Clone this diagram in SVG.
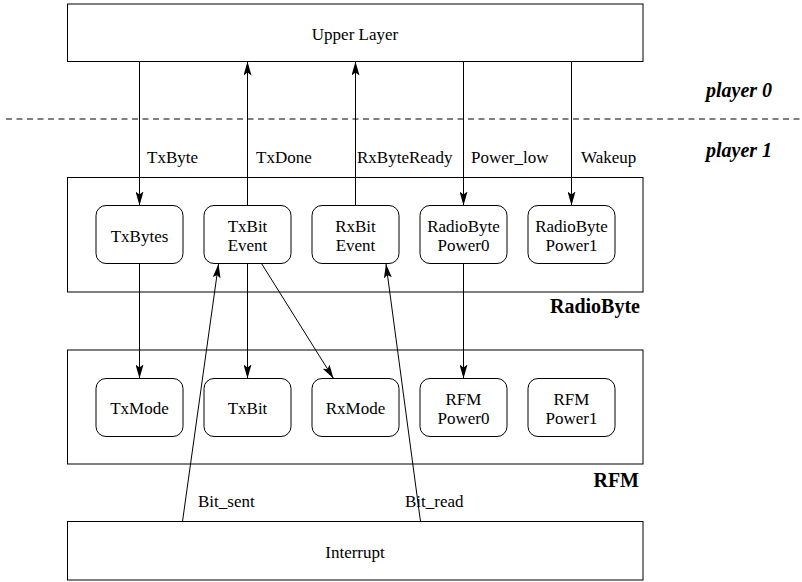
<svg xmlns="http://www.w3.org/2000/svg" width="802" height="582" viewBox="0 0 802 582" font-family="'Liberation Serif','Times New Roman',serif">
<style>
text{font-family:"Liberation Serif","Times New Roman",serif;fill:#000}
.t{font-size:17px}
.c{text-anchor:middle}
.b{font-size:20px;font-weight:bold}
.bi{font-size:20px;font-weight:bold;font-style:italic}
.box{fill:#fff;stroke:#000;stroke-width:1}
.node{fill:#fff;stroke:#000;stroke-width:1}
.edge{fill:none;stroke:#000;stroke-width:1}
</style>
<defs>
<marker id="ah" viewBox="0 0 14 8" refX="14" refY="4" markerWidth="14" markerHeight="8" orient="auto" markerUnits="userSpaceOnUse">
<path d="M0,0 L14,4 L0,8 L3,4 Z" fill="#000"/>
</marker>
</defs>
<rect width="802" height="582" fill="#fff"/>
<g id="separator">
<line x1="6" y1="119" x2="802" y2="119" stroke="#000" stroke-width="1" stroke-dasharray="6 4.5"/>
<text class="bi" x="706" y="97">player 0</text>
<text class="bi" x="706" y="157">player 1</text>
</g>
<g id="upper-layer">
<rect class="box" x="67.5" y="4" width="575.5" height="57.5"/>
<text class="t c" x="355" y="40">Upper Layer</text>
</g>
<g id="radiobyte">
<rect class="box" x="67.5" y="177.5" width="575.5" height="114.5"/>
<text class="b" x="640" y="313" text-anchor="end">RadioByte</text>
</g>
<g id="rfm">
<rect class="box" x="67.5" y="350" width="575.5" height="114"/>
<text class="b" x="639" y="487" text-anchor="end">RFM</text>
</g>
<g id="interrupt">
<rect class="box" x="67.5" y="521.5" width="575.5" height="58.5"/>
<text class="t c" x="355" y="558">Interrupt</text>
</g>
<g id="txbytes">
<rect class="node" x="96" y="205.5" width="87" height="58" rx="10"/>
<text class="t c" x="139.5" y="242">TxBytes</text>
</g>
<g id="txbit-event">
<rect class="node" x="204" y="205.5" width="87" height="58" rx="10"/>
<text class="t c"><tspan x="247.5" y="232">TxBit</tspan><tspan x="247.5" y="251">Event</tspan></text>
</g>
<g id="rxbit-event">
<rect class="node" x="312" y="205.5" width="87" height="58" rx="10"/>
<text class="t c"><tspan x="355.5" y="232">RxBit</tspan><tspan x="355.5" y="251">Event</tspan></text>
</g>
<g id="radiobyte-power0">
<rect class="node" x="420" y="205.5" width="87" height="58" rx="10"/>
<text class="t c"><tspan x="463.5" y="232">RadioByte</tspan><tspan x="463.5" y="251">Power0</tspan></text>
</g>
<g id="radiobyte-power1">
<rect class="node" x="528" y="205.5" width="87" height="58" rx="10"/>
<text class="t c"><tspan x="571.5" y="232">RadioByte</tspan><tspan x="571.5" y="251">Power1</tspan></text>
</g>
<g id="txmode">
<rect class="node" x="96" y="378.5" width="87" height="58" rx="10"/>
<text class="t c" x="139.5" y="414">TxMode</text>
</g>
<g id="txbit">
<rect class="node" x="204" y="378.5" width="87" height="58" rx="10"/>
<text class="t c" x="247.5" y="414">TxBit</text>
</g>
<g id="rxmode">
<rect class="node" x="312" y="378.5" width="87" height="58" rx="10"/>
<text class="t c" x="355.5" y="414">RxMode</text>
</g>
<g id="rfm-power0">
<rect class="node" x="420" y="378.5" width="87" height="58" rx="10"/>
<text class="t c"><tspan x="463.5" y="405">RFM</tspan><tspan x="463.5" y="424">Power0</tspan></text>
</g>
<g id="rfm-power1">
<rect class="node" x="528" y="378.5" width="87" height="58" rx="10"/>
<text class="t c"><tspan x="571.5" y="405">RFM</tspan><tspan x="571.5" y="424">Power1</tspan></text>
</g>
<g id="connectors">
<line class="edge" x1="139.5" y1="61.5" x2="139.5" y2="205.5" marker-end="url(#ah)"/>
<line class="edge" x1="247.5" y1="205.5" x2="247.5" y2="61.5" marker-end="url(#ah)"/>
<line class="edge" x1="355.5" y1="205.5" x2="355.5" y2="61.5" marker-end="url(#ah)"/>
<line class="edge" x1="463.5" y1="61.5" x2="463.5" y2="205.5" marker-end="url(#ah)"/>
<line class="edge" x1="571.5" y1="61.5" x2="571.5" y2="205.5" marker-end="url(#ah)"/>
<line class="edge" x1="139.5" y1="263.5" x2="139.5" y2="378.5" marker-end="url(#ah)"/>
<line class="edge" x1="247.5" y1="263.5" x2="247.5" y2="378.5" marker-end="url(#ah)"/>
<line class="edge" x1="261.5" y1="263.5" x2="333.5" y2="378.5" marker-end="url(#ah)"/>
<line class="edge" x1="463.5" y1="263.5" x2="463.5" y2="378.5" marker-end="url(#ah)"/>
<line class="edge" x1="182.5" y1="521.5" x2="218.5" y2="264" marker-end="url(#ah)"/>
<line class="edge" x1="420.5" y1="521.5" x2="386" y2="264" marker-end="url(#ah)"/>
<text class="t" x="147" y="163">TxByte</text>
<text class="t" x="256" y="163">TxDone</text>
<text class="t" x="357" y="163">RxByteReady</text>
<text class="t" x="471" y="163">Power_low</text>
<text class="t" x="581" y="163">Wakeup</text>
<text class="t" x="198" y="507">Bit_sent</text>
<text class="t" x="405" y="507">Bit_read</text>
</g>
</svg>
